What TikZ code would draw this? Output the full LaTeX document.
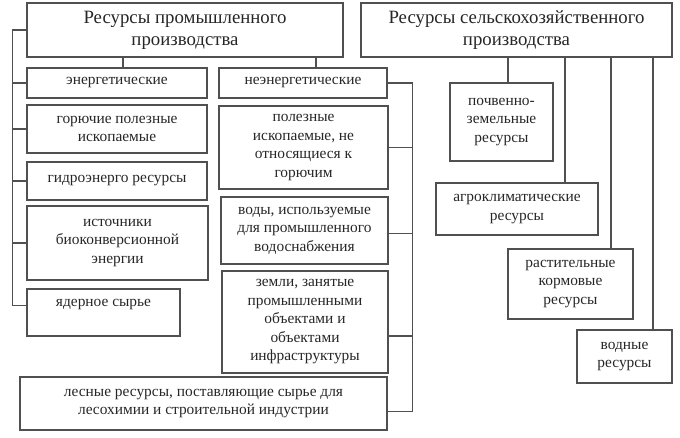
\documentclass[tikz,border=0pt]{standalone}
\usepackage{fontspec}
\setmainfont{Liberation Serif}
\usetikzlibrary{positioning}
\definecolor{framegray}{HTML}{505050}
\definecolor{textgray}{HTML}{262626}
\tikzstyle{head} = [rectangle, draw=framegray, line width=1.2pt, align=center, inner sep=0pt,
                    text=textgray, font=\fontsize{18.8}{22}\selectfont]
\tikzstyle{item} = [rectangle, draw=framegray, line width=1.2pt, align=center, inner sep=0pt,
                    text=textgray, font=\fontsize{15.4}{18.5}\selectfont]
\tikzstyle{link} = [draw=framegray, line width=1.1pt]

\begin{document}
\begin{tikzpicture}[x=1pt, y=-1pt]
\useasboundingbox (0,0) rectangle (680,438);

% headers
\node[head, minimum width=316, minimum height=54] (prom) at (185,30) {Ресурсы промышленного\\производства};
\node[head, minimum width=311, minimum height=54] (selh) at (516.5,30) {Ресурсы сельскохозяйственного\\производства};

% industrial resources
\node[item, minimum width=180, minimum height=30] (energ) at (117,83) {энергетические};
\node[item, minimum width=168, minimum height=30] (neenerg) at (303,83) {неэнергетические};
\node[item, minimum width=180, minimum height=48] (gorjuch) at (117,129) {горючие полезные\\ископаемые};
\node[item, minimum width=180, minimum height=38] (gidro) at (117,181) {гидроэнерго ресурсы};
\node[item, minimum width=181, minimum height=74] (biokonv) at (117.5,243) {источники\\биоконверсионной\\энергии};
\node[item, minimum width=153, minimum height=47] (jadern) at (103.5,312.5) {ядерное сырье\\\mbox{}};
\node[item, minimum width=169, minimum height=83] (polezn) at (303.5,147.5) {полезные\\ископаемые, не\\относящиеся к\\горючим};
\node[item, minimum width=167, minimum height=67] (vody) at (304.5,230.5) {воды, используемые\\для промышленного\\водоснабжения};
\node[item, minimum width=166, minimum height=102] (zemli) at (305,322) {земли, занятые\\промышленными\\объектами и\\объектами\\инфраструктуры};
\node[item, minimum width=367, minimum height=53] (lesn) at (203.5,403.5) {лесные ресурсы, поставляющие сырье для\\лесохимии и строительной индустрии};

% agricultural resources
\node[item, minimum width=103, minimum height=78] (pochv) at (501.5,122) {почвенно-\\земельные\\ресурсы};
\node[item, minimum width=162, minimum height=52] (agro) at (517,209) {агроклиматические\\ресурсы};
\node[item, minimum width=125, minimum height=70] (rastit) at (570.5,284) {растительные\\кормовые\\ресурсы};
\node[item, minimum width=95, minimum height=53] (vodnye) at (624.5,356.5) {водные\\ресурсы};

% left bus
\draw[link] (prom.west) -- ++(-14,0) |- ([yshift=7pt]jadern.west);
\foreach \n in {energ, gorjuch, gidro, biokonv}
  \draw[link] (\n.west) -- ++(-14,0);

% right bus
\path (neenerg.east) ++(25,0) coordinate (rbus);
\draw[link] (neenerg.east) -- (rbus) |- ([yshift=-8pt]lesn.east);
\draw[link] (polezn.east) -- (polezn.east -| rbus);
\draw[link] ([yshift=-3pt]vody.east) -- ([yshift=-3pt]vody.east -| rbus);
\draw[link] ([yshift=-14pt]zemli.east) -- ([yshift=-14pt]zemli.east -| rbus);

% header links
\draw[link] ([xshift=6pt]energ.north) -- ([xshift=6pt]energ.north |- prom.south);
\draw[link] ([xshift=13pt]neenerg.north) -- ([xshift=13pt]neenerg.north |- prom.south);
\draw[link] ([xshift=6.5pt]pochv.north) -- ([xshift=6.5pt]pochv.north |- selh.south);
\draw[link] ([xshift=48pt]agro.north) -- ([xshift=48pt]agro.north |- selh.south);
\draw[link] ([xshift=40.5pt]rastit.north) -- ([xshift=40.5pt]rastit.north |- selh.south);
\draw[link] ([xshift=28.5pt]vodnye.north) -- ([xshift=28.5pt]vodnye.north |- selh.south);
\end{tikzpicture}
\end{document}
